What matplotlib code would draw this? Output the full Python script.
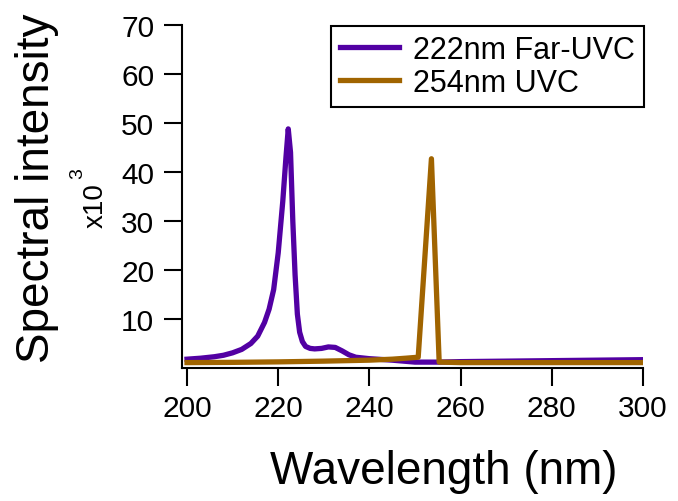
import matplotlib
matplotlib.use("Agg")
import matplotlib.pyplot as plt

plt.rcParams['font.family'] = ['Liberation Sans', 'DejaVu Sans']

# Data (intensity in units of 10^3)
far_wl = [200, 203, 206, 208, 210, 212, 214, 215.5, 217, 218, 219, 220, 221, 221.7,
          222.2, 222.7, 223.2, 223.7, 224.2, 224.7, 225.3, 226, 227, 228, 229.5, 231,
          232.5, 234, 235.5, 237, 240, 245, 250, 255, 260, 270, 280, 290, 300]
far_val = [1.8, 2.0, 2.3, 2.6, 3.1, 3.8, 5.0, 6.5, 9.3, 12.0, 16.0, 23.5, 34.0, 43.0,
           48.8, 44.0, 30.0, 19.0, 11.0, 7.3, 5.4, 4.4, 4.0, 3.9, 4.0, 4.3,
           4.2, 3.5, 2.7, 2.2, 1.9, 1.6, 1.2, 1.2, 1.3, 1.4, 1.5, 1.6, 1.7]

uvc_wl = [200, 210, 220, 230, 240, 245, 248, 250.7, 253.6, 255.3, 260, 270, 280, 290, 300]
uvc_val = [1.1, 1.15, 1.25, 1.4, 1.6, 1.8, 2.0, 2.2, 42.7, 1.2, 1.1, 1.1, 1.1, 1.1, 1.1]

labels = ["222nm Far-UVC", "254nm UVC"]
colors = ["#5200A3", "#A06400"]
xticks = [200, 220, 240, 260, 280, 300]
yticks = [10, 20, 30, 40, 50, 60, 70]

fig = plt.figure(figsize=(6.78, 5.02), dpi=100)
ax = fig.add_axes([182/678, 1-369/502, (643-182)/678, (369-26)/502])

ax.plot(far_wl, far_val, color=colors[0], lw=3.8, label=labels[0], solid_joinstyle='round')
ax.plot(uvc_wl, uvc_val, color=colors[1], lw=3.8, label=labels[1], solid_joinstyle='round')

ax.set_xlim(198.9, 300)
ax.set_ylim(0, 70)
ax.set_xticks(xticks)
ax.set_yticks(yticks)
for s in ['top', 'right']:
    ax.spines[s].set_visible(False)
for s in ['left', 'bottom']:
    ax.spines[s].set_linewidth(1.5)
ax.tick_params(axis='both', direction='out', length=13, width=1.5, labelsize=21.5)
ax.tick_params(axis='y', pad=7)
ax.tick_params(axis='x', pad=6)

fig.text(37/678, 1-188/502, "Spectral intensity", rotation=90, fontsize=33,
         ha='center', va='center')
fig.text(444/678, 1-472/502, "Wavelength (nm)", fontsize=33, ha='center', va='center')
fig.text(96/678, 1-206/502, "x10", rotation=90, fontsize=20,
         ha='center', va='center')
fig.text(78/678, 1-174/502, "3", rotation=90, fontsize=14,
         ha='center', va='center')

leg = ax.legend(loc='upper right', bbox_to_anchor=(644/678, 1-27/502),
                bbox_transform=fig.transFigure, borderaxespad=0, fontsize=22,
                handlelength=1.93, handletextpad=0.46, borderpad=0.3,
                labelspacing=0.08, fancybox=False, framealpha=1, edgecolor='black')
leg.get_frame().set_linewidth(1.5)
for l in leg.get_lines():
    l.set_linewidth(3.8)

fig.savefig("out.png", dpi=100)
